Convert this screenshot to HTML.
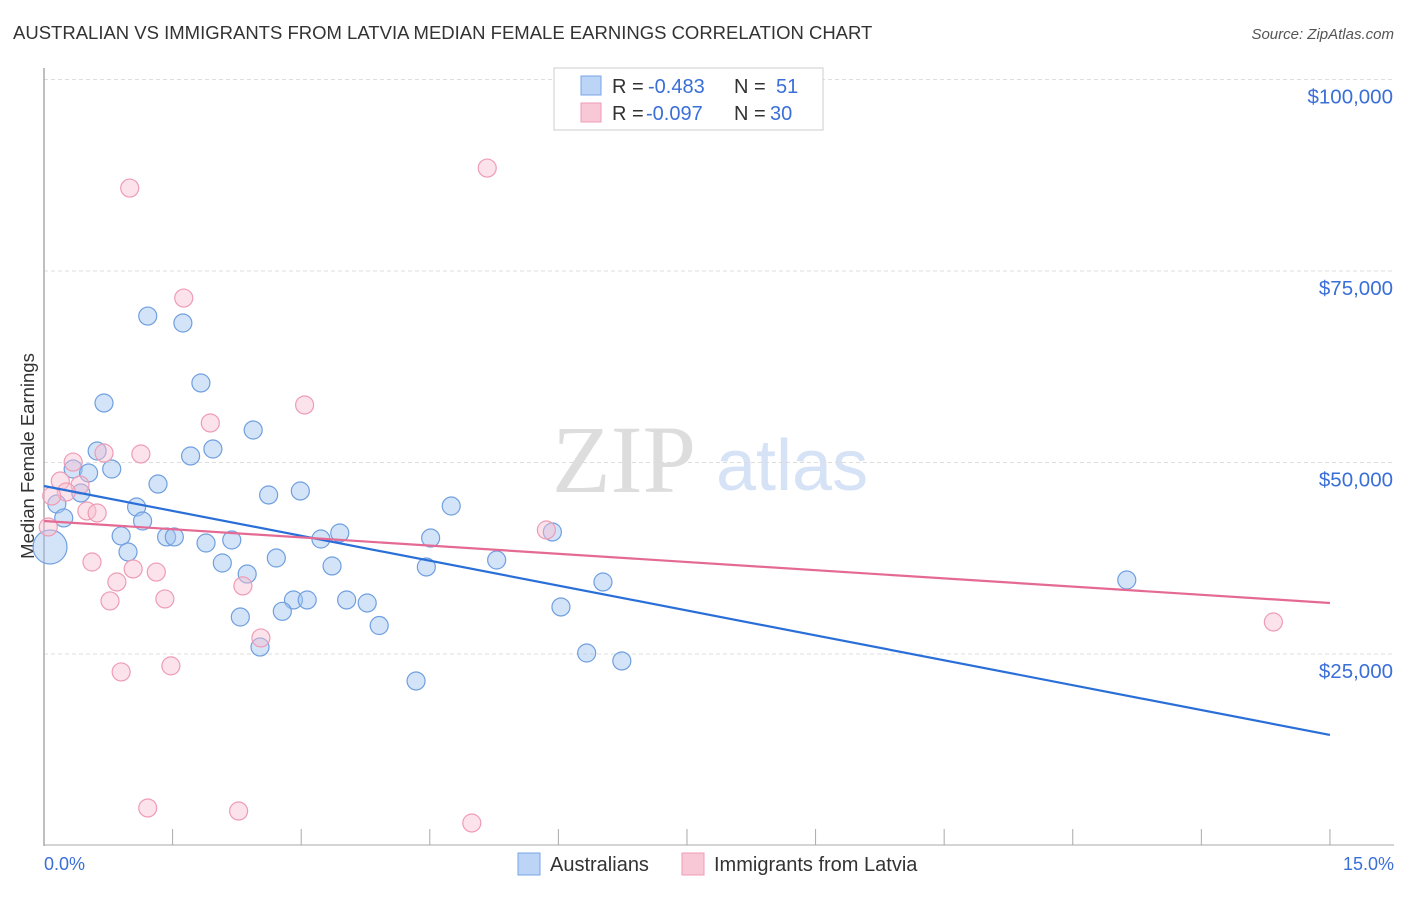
<!DOCTYPE html>
<html><head><meta charset="utf-8"><style>
body{margin:0;background:#fff;font-family:"Liberation Sans",sans-serif;}
svg text{font-family:"Liberation Sans",sans-serif;}
</style></head><body>
<svg id="chart" width="1406" height="892" xmlns="http://www.w3.org/2000/svg">
<text x="13" y="39" font-size="18.5" fill="#333">AUSTRALIAN VS IMMIGRANTS FROM LATVIA MEDIAN FEMALE EARNINGS CORRELATION CHART</text>
<text x="1394" y="39" font-size="15" fill="#555" text-anchor="end" font-style="italic">Source: ZipAtlas.com</text>
<text x="552" y="492" font-size="96" fill="#ddd" style="font-family:'Liberation Serif',serif">ZIP</text>
<text x="716" y="490" font-size="72" fill="#d6e2f5">atlas</text>
<g id="grid"></g>
<line x1="44" y1="68" x2="44" y2="846" stroke="#aaa" stroke-width="1.5"/>
<line x1="44" y1="845" x2="1394" y2="845" stroke="#aaa" stroke-width="1"/>
<g id="xticks"></g>
<g id="yticks"></g>
<text transform="translate(34,456) rotate(-90)" font-size="18.5" fill="#333" text-anchor="middle">Median Female Earnings</text>
<text x="44" y="870" font-size="18" fill="#3a6fd8">0.0%</text>
<text x="1394" y="870" font-size="18" fill="#3a6fd8" text-anchor="end">15.0%</text>
<g id="marks"></g>
<g>
<rect x="554" y="68" width="269" height="62" fill="#fff" stroke="#ccc"/>
<rect x="581" y="76" width="20" height="19" fill="#bcd4f5" stroke="#7aa6e8"/>
<rect x="581" y="103" width="20" height="19" fill="#f9c8d6" stroke="#ee9cb5"/>
<g font-size="20">
<text x="612" y="93" fill="#333">R =</text>
<text x="648" y="93" fill="#3a6fd8">-0.483</text>
<text x="734" y="93" fill="#333">N =</text>
<text x="776" y="93" fill="#3a6fd8">51</text>
</g>
<g font-size="20">
<text x="612" y="120" fill="#333">R =</text>
<text x="646" y="120" fill="#3a6fd8">-0.097</text>
<text x="734" y="120" fill="#333">N =</text>
<text x="770" y="120" fill="#3a6fd8">30</text>
</g>
</g>
<g>
<rect x="518" y="853" width="22" height="22" fill="#bcd4f5" stroke="#7aa6e8"/>
<text x="550" y="871" font-size="20" fill="#333">Australians</text>
<rect x="682" y="853" width="22" height="22" fill="#f9c8d6" stroke="#ee9cb5"/>
<text x="714" y="871" font-size="20" fill="#333">Immigrants from Latvia</text>
</g>
</svg>
<script>
const yTicks=[25000,50000,75000,100000];
const yTickLabels=["$25,000","$50,000","$75,000","$100,000"];
const xTicks=[0,1.5,3,4.5,6,7.5,9,10.5,12,13.5,15];
const auX=[1.21,1.62,1.83,0.70,2.44,1.97,0.62,1.71,0.34,0.79,0.52,1.33,0.43,2.99,2.62,0.15,4.75,1.08,0.23,1.15,3.45,1.43,1.52,5.93,3.23,4.51,2.19,1.89,0.90,0.07,0.98,2.71,5.28,2.08,3.36,4.46,2.37,6.52,12.63,2.91,3.07,3.53,3.77,6.03,2.78,2.29,3.91,2.52,6.33,6.74,4.34];
const auY=[69120,68210,60380,57770,54240,51760,51500,50850,49150,49150,48630,47190,46020,46280,45760,44580,44320,44190,42760,42360,40800,40280,40280,40930,40010,40140,39880,39490,40410,38970,38320,37530,37270,36880,36490,36360,35440,34400,34660,32050,32050,32050,31660,31140,30570,29830,28720,25910,25130,24090,21480];
const auBig=[29];
const lvX=[1.00,5.17,1.63,3.04,1.94,1.13,0.70,0.34,0.19,0.42,0.26,0.09,0.50,0.62,0.05,5.86,0.56,1.31,1.04,0.85,2.32,1.41,0.77,2.53,1.48,0.90,1.21,2.27,4.99,14.34];
const lvY=[85830,88440,71470,57510,55160,51110,51240,50060,47580,47060,46150,45630,43670,43410,41580,41190,37010,35700,36100,34400,33890,32190,31930,27100,23450,22660,4900,4500,2940,29180];
const auTrend=[46930,14430];
const lvTrend=[42360,31660];
const NS="http://www.w3.org/2000/svg";
const xs=v=>44+v*85.73;
const ys=v=>845.5-v*0.00766;
function mk(t,a,p){const e=document.createElementNS(NS,t);for(const k in a)e.setAttribute(k,a[k]);p.appendChild(e);return e;}
const grid=document.getElementById('grid'),yt=document.getElementById('yticks'),xt=document.getElementById('xticks'),marks=document.getElementById('marks');
yTicks.forEach((v,i)=>{
 const l=mk('line',{x1:44,x2:1394,y1:ys(v),y2:ys(v),stroke:'#ddd','stroke-dasharray':'4,3'},grid);
 
 
 const t=mk('text',{x:1393,y:ys(v)+24,'font-size':20.5,fill:'#3a6fd8','text-anchor':'end'},yt);
 t.textContent=yTickLabels[i];
 
 
});
xTicks.forEach(v=>{
 const l=mk('line',{x1:xs(v),x2:xs(v),y1:829,y2:845,stroke:'#aaa'},xt);
 
 
});
auX.forEach((x,i)=>{
 const c=mk('circle',{cx:xs(x),cy:ys(auY[i]),r:auBig.includes(i)?17:9,fill:'rgba(160,196,240,0.45)',stroke:'#6f9fe0','stroke-width':1.2},marks);
 
 
});
lvX.forEach((x,i)=>{
 const c=mk('circle',{cx:xs(x),cy:ys(lvY[i]),r:9,fill:'rgba(248,190,208,0.45)',stroke:'#ee9cb5','stroke-width':1.2},marks);
 
 
});
const t1=mk('line',{x1:xs(0),y1:ys(auTrend[0]),x2:xs(15),y2:ys(auTrend[1]),stroke:'#2a6fd8','stroke-width':2.2},marks);


const t2=mk('line',{x1:xs(0),y1:ys(lvTrend[0]),x2:xs(15),y2:ys(lvTrend[1]),stroke:'#e56a93','stroke-width':2.2},marks);


</script>
</body></html>
